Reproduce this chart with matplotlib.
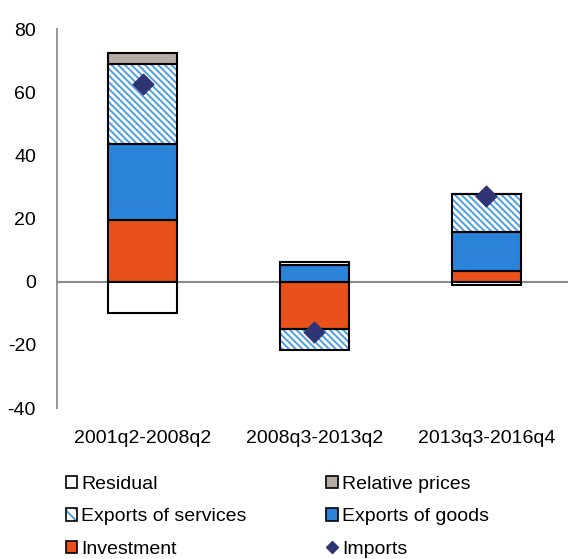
import matplotlib
matplotlib.use("Agg")
import matplotlib.pyplot as plt
from matplotlib.patches import Patch
from matplotlib.lines import Line2D
from matplotlib.legend_handler import HandlerTuple
import numpy as np

plt.rcParams['font.family'] = ['Liberation Sans', 'DejaVu Sans']
plt.rcParams['hatch.linewidth'] = 1.4
plt.rcParams['axes.unicode_minus'] = False

# Data
periods = ["2001q2-2008q2", "2008q3-2013q2", "2013q3-2016q4"]
investment = [19.5, -15.0, 3.3]
exports_goods = [24.2, 5.3, 12.6]
exports_services = [25.2, -6.6, 12.0]
relative_prices = [3.5, 0.0, 0.0]
residual = [-9.8, 0.8, -1.0]
imports = [62.5, -15.9, 27.0]

c_inv = "#e8511a"
c_goods = "#2a83d8"
c_serv = "#4a9de8"
c_rel = "#b6aba5"
c_imp = "#2f3573"
hatch = "\\\\\\\\\\"

fig = plt.figure(figsize=(5.68, 5.59), dpi=100)
ax = fig.add_axes([0.1, 0.27, 0.9, 0.678])

x = np.arange(len(periods))
w = 0.40
series = [
    (investment, c_inv, None),
    (exports_goods, c_goods, None),
    (exports_services, "white", "hatch"),
    (relative_prices, c_rel, None),
    (residual, "white", None),
]

pos = np.zeros(len(periods))
neg = np.zeros(len(periods))
for vals, col, kind in series:
    vals = np.array(vals, dtype=float)
    bottom = np.where(vals >= 0, pos, neg)
    if kind == "hatch":
        ax.bar(x, vals, w, bottom=bottom, color="white", edgecolor=c_serv,
               hatch=hatch, linewidth=0, zorder=2)
        ax.bar(x, vals, w, bottom=bottom, fill=False, edgecolor="black",
               linewidth=1.5, zorder=3)
    else:
        ax.bar(x, vals, w, bottom=bottom, color=col, edgecolor="black",
               linewidth=1.5, zorder=3)
    pos = pos + np.where(vals > 0, vals, 0)
    neg = neg + np.where(vals < 0, vals, 0)

ax.axhline(0, color="#8c8c8c", linewidth=1.5, zorder=1)
ax.scatter(x, imports, marker="D", s=110, color=c_imp, zorder=5)

ax.set_ylim(-40, 80)
ax.set_xlim(-0.5, 2.476)
ax.set_yticks(range(-40, 81, 20))
ax.set_xticks(x)
ax.set_xticklabels(periods)
ax.tick_params(axis="both", length=0, labelsize=14, colors="black")
ax.tick_params(axis="y", pad=15)
ax.tick_params(axis="x", pad=16)
for s in ["top", "right", "bottom"]:
    ax.spines[s].set_visible(False)
ax.spines["left"].set_color("#8c8c8c")
ax.spines["left"].set_linewidth(1.3)

serv_handle = (Patch(facecolor="white", edgecolor=c_serv, hatch="\\\\\\", linewidth=0),
               Patch(fill=False, edgecolor="black", linewidth=1.2))
handles = [
    Patch(facecolor="white", edgecolor="black", linewidth=1.2),
    serv_handle,
    Patch(facecolor=c_inv, edgecolor="black", linewidth=1.2),
    Patch(facecolor=c_rel, edgecolor="black", linewidth=1.2),
    Patch(facecolor=c_goods, edgecolor="black", linewidth=1.2),
    Line2D([], [], marker="D", color=c_imp, linestyle="none", markersize=6),
]
labels = ["Residual", "Exports of services", "Investment",
          "Relative prices", "Exports of goods", "Imports"]
fig.legend(handles, labels, ncol=2, loc="upper left", bbox_to_anchor=(0.102, 0.163),
           frameon=False, fontsize=14, handlelength=0.6, handleheight=0.6,
           handletextpad=0.2, columnspacing=4.1, labelspacing=0.8, borderaxespad=0,
           handler_map={tuple: HandlerTuple(ndivide=1, pad=0)})

fig.savefig("out.png", dpi=100)
